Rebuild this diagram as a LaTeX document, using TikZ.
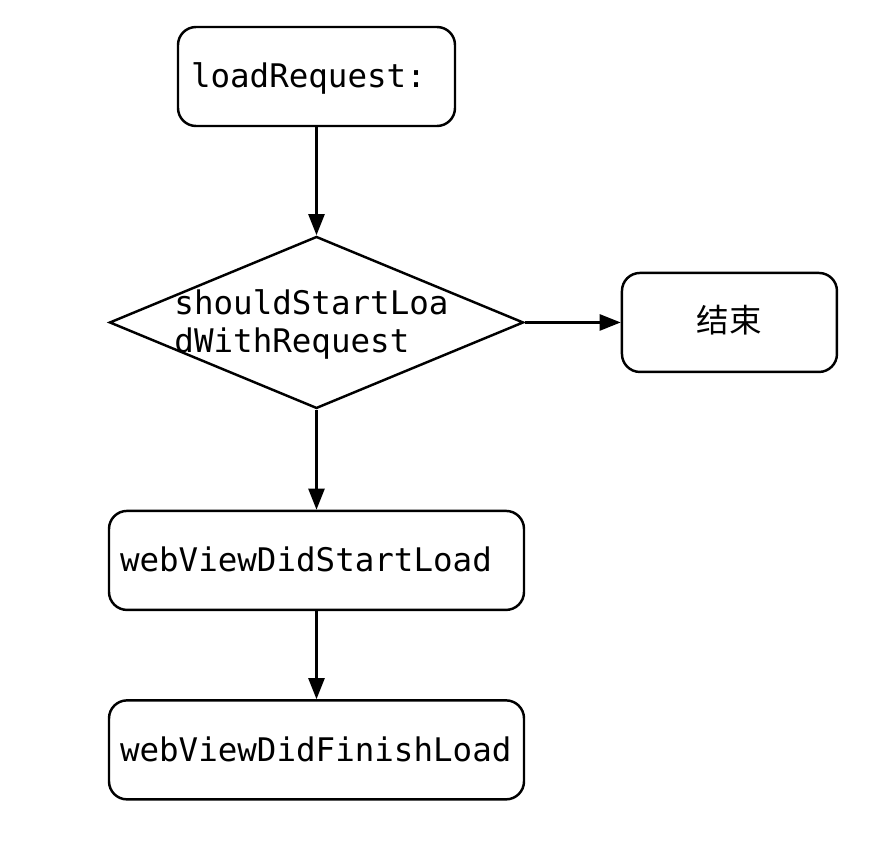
\documentclass[tikz,border=0pt]{standalone}
\usepackage{fontspec}
\setmonofont{DejaVu Sans Mono}
\newfontfamily\cjk{Noto Sans CJK SC}
\usetikzlibrary{arrows.meta,positioning,shapes.geometric}

\begin{document}
\begin{tikzpicture}[
        proc/.style={draw, rectangle, rounded corners=0.36cm, line width=1.4pt, minimum height=1.98cm, inner xsep=0.22cm, text height=0.62cm, text depth=0.16cm, align=left, font=\ttfamily\fontsize{18.5}{21}\selectfont},
        decision/.style={draw, diamond, line width=1.4pt, minimum width=8.28cm, minimum height=3.44cm, inner sep=0pt},
        label/.style={align=left, font=\ttfamily\fontsize{18.5}{21.5}\selectfont},
        arrow/.style={-{Triangle[length=0.42cm, width=0.32cm]}, line width=1.4pt}
    ]
        \useasboundingbox (0,0) rectangle (17.92,-16.92);

        % Inicio
        \node[proc, inner xsep=0.26cm, text width=5.02cm] (load) at (6.33,-1.53) {loadRequest:};

        % Decisao
        \node[decision, below=2.16cm of load] (should) {};
        \node[label, xshift=-0.1cm, yshift=-0.04cm] (shouldtxt) at (should) {shouldStartLoa\\dWithRequest};

        % Fim
        \node[proc, align=center, minimum width=4.3cm, text height=0.5cm, text depth=0.1cm, font=\cjk\fontsize{18.5}{21}\selectfont, right=1.92cm of should] (done) {结束};

        % Carregamento
        \node[proc, text width=7.86cm, below=2.0cm of should] (start) {webViewDidStartLoad};
        \node[proc, text width=7.86cm, below=1.76cm of start] (finish) {webViewDidFinishLoad};

        % Conexoes
        \draw[arrow] (load) -- (should);
        \draw[arrow] (should) -- (done);
        \draw[arrow] (should) -- (start);
        \draw[arrow] (start) -- (finish);
    \end{tikzpicture}
\end{document}
